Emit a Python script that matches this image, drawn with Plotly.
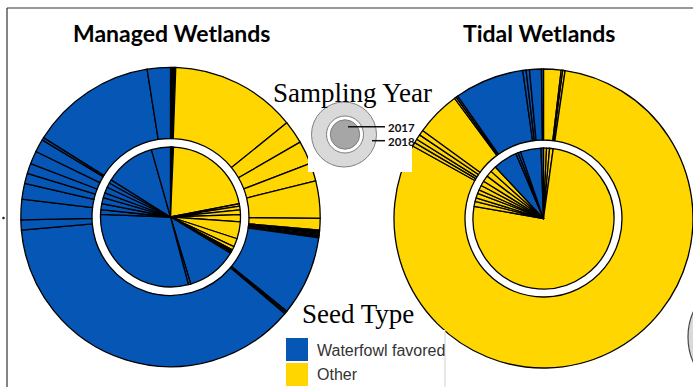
import plotly.graph_objects as go

W, H = 693, 387
BLUE = "#0656B6"
YELLOW = "#FFD600"

# ---- data: slice shares (%) clockwise from 12 o'clock, and seed type per slice ----
managed_2017_pct = [0.17, 0.17, 0.17, 0.17, 21.3, 0.56, 0.83, 1.1, 1.67, 3.9, 1.94, 0.83,
                    0.28, 0.28, 0.28, 11.7, 0.56, 29.7, 1.1, 1.4, 1.4, 1.1, 1.4, 1.1, 0.83,
                    11.7, 4.4]
managed_2017_type = ["O", "W", "O", "O", "O", "O", "O", "O", "O", "O", "O", "O",
                     "O", "O", "O", "W", "W", "W", "W", "W", "W", "W", "W", "W", "W",
                     "W", "W"]

managed_2018_pct = [0.14, 0.14, 0.14, 0.14, 13.6, 2.5, 2.5, 1.94, 4.03, 1.25,
                    0.14, 0.14, 0.14, 0.14, 0.14, 0.14, 8.6, 0.17, 0.17, 37.4,
                    1.1, 2.2, 1.7, 1.1, 1.1, 1.4, 1.4, 0.28, 13.6, 2.5]
managed_2018_type = ["O", "W", "O", "O", "O", "O", "O", "O", "O", "O",
                     "O", "O", "O", "O", "O", "O", "W", "W", "W", "W",
                     "W", "W", "W", "W", "W", "W", "W", "W", "W", "W"]

tidal_2017_pct = [0.69, 0.69, 0.83, 75.56, 1.11, 0.83, 1.11, 0.83, 1.11, 1.11, 1.39,
                  1.39, 1.39, 5.56, 0.56, 0.56, 4.72, 0.56]
tidal_2017_type = ["O", "O", "O", "O", "O", "O", "O", "O", "O", "O", "O",
                   "O", "O", "W", "W", "W", "W", "W"]

tidal_2018_pct = [1.89, 0.17, 0.25, 80.75, 0.42, 0.42, 0.56, 0.56, 4.86, 0.19, 0.22,
                  7.5, 0.36, 0.36, 1.28, 0.22]
tidal_2018_type = ["O", "O", "O", "O", "O", "O", "O", "O", "O", "O", "W",
                   "W", "W", "W", "W", "W"]

seed_types = ["Waterfowl favored", "Other"]
years = ["2017", "2018"]
panels = ["Managed Wetlands", "Tidal Wetlands"]

COLOR = {"W": BLUE, "O": YELLOW}
NAME = {"W": seed_types[0], "O": seed_types[1]}


def px(x):
    return x / W


def py(y):
    return 1 - y / H


def dom(cx, cy, r):
    return dict(x=[max(0, px(cx - r)), min(1, px(cx + r))], y=[py(cy + r), py(cy - r)])


def pie(vals, types, cx, cy, r, hole=0):
    return go.Pie(
        values=vals,
        marker=dict(colors=[COLOR[t] for t in types], line=dict(color="#000000", width=1.3)),
        hovertext=[NAME[t] for t in types], hoverinfo="text+percent",
        sort=False, direction="clockwise", rotation=0, textinfo="none",
        hole=hole, domain=dom(cx, cy, r), showlegend=False)


fig = go.Figure()
# Managed
fig.add_trace(pie(managed_2018_pct, managed_2018_type, 170.5, 217, 149.7, hole=78.5 / 149.7))
fig.add_trace(pie(managed_2017_pct, managed_2017_type, 170.5, 217, 70))
# Tidal
fig.add_trace(pie(tidal_2018_pct, tidal_2018_type, 543.5, 218.5, 149.5, hole=78.5 / 149.5))
fig.add_trace(pie(tidal_2017_pct, tidal_2017_type, 543.5, 218.5, 70.5))

shapes = []


def rect(x0, y0, x1, y1, fill="white", line=None, lw=0):
    shapes.append(dict(type="rect", xref="paper", yref="paper", x0=px(x0), x1=px(x1),
                       y0=py(y1), y1=py(y0), fillcolor=fill,
                       line=dict(color=line or fill, width=lw), layer="above"))


def circle(cx, cy, r, fill, line, lw=1):
    shapes.append(dict(type="circle", xref="paper", yref="paper", x0=px(cx - r), x1=px(cx + r),
                       y0=py(cy + r), y1=py(cy - r), fillcolor=fill,
                       line=dict(color=line, width=lw), layer="above"))


def seg(x0, y0, x1, y1, color="#222222", lw=1):
    shapes.append(dict(type="line", xref="paper", yref="paper", x0=px(x0), x1=px(x1),
                       y0=py(y0), y1=py(y1), line=dict(color=color, width=lw), layer="above"))


# frame lines
seg(7, 8, 693, 8, "#333333", 1.2)
seg(7, 8, 7, 387, "#333333", 1.2)
circle(3.5, 218, 1.3, "#222222", "#222222", 0)

# sampling-year key box
rect(308, 108, 412, 172)
circle(344, 134.5, 32.5, "#D9D9D9", "#7F7F7F", 1)
circle(345, 134.5, 18.5, "white", "#7F7F7F", 1)
circle(345, 134.5, 14.7, "#A6A6A6", "#7F7F7F", 1)
seg(348, 126.7, 385, 126.7, "#111111", 1.5)
seg(372, 140.7, 385, 140.7, "#111111", 1.5)

# seed type legend box
rect(278, 330, 445, 387)
seg(445, 330, 445, 387, "#D0D0D0", 1)
rect(286, 338, 308, 361, BLUE, BLUE, 0)
rect(286, 363, 308, 386, YELLOW, YELLOW, 0)

# partial circle at right edge
circle(748, 337, 60, "#D9D9D9", "#444444", 1.2)

ann = []


def text(x, y, s, size, family, color="black", anchor="center", bold=False):
    ann.append(dict(x=px(x), y=py(y), xref="paper", yref="paper", showarrow=False,
                    text=f"<b>{s}</b>" if bold else s, xanchor=anchor, yanchor="middle",
                    font=dict(size=size, family=family, color=color)))


text(171, 33, panels[0], 23, "Lato", bold=True)
text(539, 33, panels[1], 23, "Lato", bold=True)
text(352, 93, "Sampling Year", 27, "Liberation Serif")
text(386, 127, years[0], 11.5, "Lato", "#111111", "left", True)
text(386, 141, years[1], 11.5, "Lato", "#111111", "left", True)
text(358, 314, "Seed Type", 27, "Liberation Serif")
text(315, 350, seed_types[0], 16, "Liberation Sans", "#333333", "left")
text(315, 374, seed_types[1], 16, "Liberation Sans", "#333333", "left")

fig.update_layout(width=W, height=H, autosize=False, margin=dict(l=0, r=0, t=0, b=0),
                  paper_bgcolor="white", plot_bgcolor="white", shapes=shapes, annotations=ann)
fig.write_html("out.html")
